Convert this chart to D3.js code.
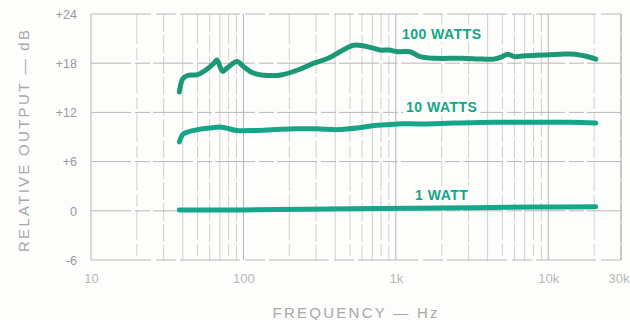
<!DOCTYPE html>
<html>
<head>
<meta charset="utf-8">
<script src="https://cdn.jsdelivr.net/npm/d3@7/dist/d3.min.js"></script>
<style>
  html, body { margin: 0; padding: 0; background: #fdfdfb; }
  svg { display: block; }
  text { font-family: "Liberation Sans", "DejaVu Sans", sans-serif; }
</style>
</head>
<body>
<svg id="chart" width="630" height="320"></svg>
<script>
// Frequency response at three power levels (Hz, dB)
const freq100 = [38, 40, 43, 50, 57, 64, 67, 73, 78, 91, 100, 116, 145, 180, 230, 290, 360, 430, 530, 690, 790, 900, 1030, 1240, 1440, 1800, 2700, 3700, 4400, 5000, 5400, 6000, 7000, 9200, 12000, 15000, 19000, 20500];
const db100  = [14.5, 16.1, 16.5, 16.6, 17.2, 18.0, 18.4, 17.0, 17.4, 18.2, 17.6, 16.8, 16.5, 16.6, 17.2, 18.0, 18.6, 19.4, 20.2, 19.9, 19.6, 19.6, 19.4, 19.4, 18.8, 18.6, 18.6, 18.5, 18.5, 18.8, 19.1, 18.8, 18.9, 19.0, 19.1, 19.1, 18.7, 18.5];

const freq10 = [38, 40, 43, 50, 60, 72, 90, 120, 160, 220, 300, 420, 560, 720, 860, 1030, 1500, 2400, 4500, 8000, 14000, 20500];
const db10   = [8.4, 9.3, 9.6, 9.9, 10.1, 10.2, 9.8, 9.8, 9.9, 10.0, 10.0, 9.9, 10.1, 10.4, 10.5, 10.6, 10.6, 10.7, 10.8, 10.8, 10.8, 10.7];

const freq1 = [38, 100, 500, 2000, 8000, 20500];
const db1   = [0.1, 0.1, 0.25, 0.35, 0.45, 0.5];

const yTicks = [-6, 0, 6, 12, 18, 24];
const yTickLabels = ["-6", "0", "+6", "+12", "+18", "+24"];
const xTickValues = [10, 100, 1000, 10000, 30000];
const xTickLabels = ["10", "100", "1k", "10k", "30k"];
const gridFreqs = [];
[10, 100, 1000, 10000].forEach(d => { for (let k = 1; k <= 9; k++) { if (d * k <= 30000) gridFreqs.push(d * k); } });
gridFreqs.push(30000);

const curves = [
  { name: "100 WATTS", f: freq100, v: db100, color: "#1d9877", labelF: 2000, labelDb: 21.0 },
  { name: "10 WATTS",  f: freq10,  v: db10,  color: "#17a58a", labelF: 2000, labelDb: 12.1 },
  { name: "1 WATT",    f: freq1,   v: db1,   color: "#16a68b", labelF: 2000, labelDb: 1.35 }
];

const svg = d3.select("#chart");
const x = d3.scaleLog().domain([10, 30000]).range([91, 621]);
const y = d3.scaleLinear().domain([-6, 24]).range([260, 14]);

// log grid
const grid = svg.append("g");
grid.selectAll("line.v").data(gridFreqs).join("line")
  .attr("x1", d => x(d)).attr("x2", d => x(d))
  .attr("y1", y(24)).attr("y2", y(-6))
  .attr("stroke", d => [10, 100, 1000, 10000, 30000].includes(d) ? "#b4b4b4" : "#cfcfcf")
  .attr("stroke-width", 1)
  .attr("stroke-dasharray", (d, i) => i % 3 === 1 ? "30,4,12,3" : (i % 3 === 2 ? "18,3" : null));
grid.selectAll("line.h").data(yTicks).join("line")
  .attr("x1", x(10)).attr("x2", x(30000))
  .attr("y1", d => y(d)).attr("y2", d => y(d))
  .attr("stroke", "#b8b8b8").attr("stroke-width", 1)
  .attr("stroke-dasharray", d => (d === -6 || d === 24) ? "60,5,20,4" : "40,4,15,3");

// y axis labels
const yAxis = d3.axisLeft(y).tickValues(yTicks).tickSize(0).tickPadding(14)
  .tickFormat((d, i) => yTickLabels[i]);
const gy = svg.append("g").attr("transform", "translate(91,0)").call(yAxis);
gy.select(".domain").remove();
gy.selectAll("text").attr("fill", "#9a9a9a").style("font-size", "12.5px")
  .style("font-family", "'Liberation Sans', sans-serif").attr("dy", "0.35em");

// x axis labels; the last one ends at the page edge
const xAxis = d3.axisBottom(x).tickValues(xTickValues).tickSize(0).tickPadding(14)
  .tickFormat((d, i) => xTickLabels[i]);
const gx = svg.append("g").attr("transform", "translate(0,260)").call(xAxis);
gx.select(".domain").remove();
gx.selectAll("text").attr("fill", "#b8b8b8").style("font-size", "13px")
  .style("font-family", "'Liberation Sans', sans-serif");
gx.selectAll(".tick").filter(d => d === 30000).select("text")
  .attr("text-anchor", "end").attr("x", 8);

// axis titles
svg.append("text")
  .attr("transform", "translate(29,141) rotate(-90)")
  .attr("text-anchor", "middle")
  .attr("fill", "#a8a8a8").style("font-size", "15px")
  .attr("textLength", 222).attr("lengthAdjust", "spacing")
  .text("RELATIVE OUTPUT — dB");
svg.append("text")
  .attr("x", 355).attr("y", 318)
  .attr("text-anchor", "middle")
  .attr("fill", "#a8a8a8").style("font-size", "15px")
  .attr("textLength", 165).attr("lengthAdjust", "spacing")
  .text("FREQUENCY — Hz");

// response curves
const line = d3.line().curve(d3.curveCatmullRom.alpha(0.5));
curves.forEach(c => {
  const pts = c.f.map((f, i) => [x(f), y(c.v[i])]);
  svg.append("path")
    .attr("d", line(pts))
    .attr("fill", "none")
    .attr("stroke", c.color)
    .attr("stroke-width", 5)
    .attr("stroke-linecap", "round")
    .attr("stroke-linejoin", "round");
});

// curve labels on a white patch
curves.forEach(c => {
  const t = svg.append("text")
    .attr("x", x(c.labelF)).attr("y", y(c.labelDb))
    .attr("text-anchor", "middle")
    .attr("fill", "#14a585")
    .style("font-size", "14px").style("font-weight", "bold")
    .style("letter-spacing", "0.5px")
    .text(c.name);
  const b = t.node().getBBox();
  svg.insert("rect", function () { return t.node(); })
    .attr("x", b.x - 3).attr("y", b.y - 1)
    .attr("width", b.width + 6).attr("height", b.height + 2)
    .attr("fill", "#fdfdfb");
});
</script>
</body>
</html>
